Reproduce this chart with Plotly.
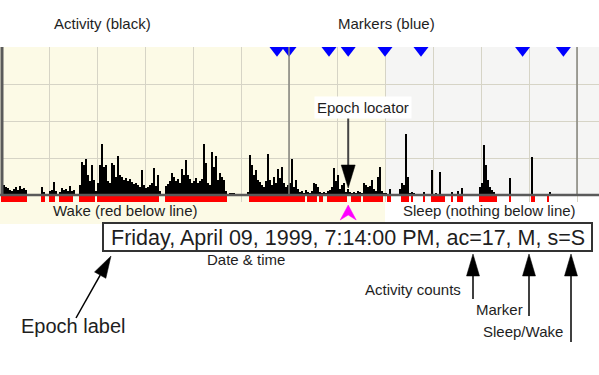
import math
import plotly.graph_objects as go

# ---------------- data ----------------
START_HOUR = 12.0          # first epoch starts at 12:00 PM
EPOCH_MIN = 2.5            # minutes per displayed epoch
DATE_LABEL = "Friday, April 09, 1999"

activity = [
    86, 27, 22, 19, 14, 11, 16, 22, 14, 24,
    16, 19, 14, 0, 0, 0, 0, 0, 0, 0,
    22, 8, 0, 0, 11, 14, 35, 11, 0, 8,
    19, 14, 16, 11, 24, 11, 14, 0, 0, 27,
    89, 81, 97, 54, 38, 81, 41, 11, 32, 81,
    138, 76, 81, 38, 32, 86, 81, 49, 105, 54,
    49, 41, 46, 38, 43, 35, 30, 32, 27, 22,
    68, 27, 19, 22, 27, 32, 73, 24, 54, 11,
    0, 0, 24, 30, 38, 59, 49, 38, 43, 32,
    70, 54, 95, 54, 43, 32, 38, 46, 32, 38,
    43, 138, 86, 32, 27, 116, 76, 105, 41, 59,
    49, 41, 11, 0, 5, 5, 5, 0, 0, 0,
    0, 0, 0, 8, 108, 81, 54, 68, 41, 35,
    27, 22, 38, 111, 41, 27, 49, 32, 70, 46,
    76, 32, 22, 27, 32, 97, 22, 41, 16, 8,
    11, 5, 14, 8, 5, 11, 32, 30, 22, 8,
    5, 8, 5, 11, 14, 22, 73, 38, 54, 16,
    27, 32, 8, 17, 8, 5, 8, 5, 11, 8,
    5, 32, 27, 22, 24, 41, 16, 11, 49, 76,
    11, 5, 5, 0, 16, 0, 0, 0, 0, 16,
    32, 27, 165, 49, 5, 8, 5, 0, 0, 0,
    0, 8, 0, 0, 0, 68, 0, 5, 0, 62,
    0, 0, 0, 0, 0, 8, 0, 0, 11, 0,
    19, 0, 0, 0, 0, 0, 0, 0, 0, 22,
    32, 135, 81, 41, 22, 14, 8, 0, 0, 0,
    0, 0, 0, 0, 46, 0, 0, 0, 0, 0,
    0, 0, 0, 0, 0, 103, 0, 0, 0, 0,
    0, 0, 0, 0, 8, 0, 0, 0, 0, 0,
    0, 0, 0, 0, 0, 0, 0, 0, 0, 0,
    0, 0, 0, 0, 0, 0, 0, 0, 0,
]

# wake-scored epochs (inclusive index ranges)
wake_ranges = [
    (0, 12), (20, 21), (24, 26), (29, 35), (39, 46), (48, 78), (82, 112),
    (124, 148), (149, 151), (153, 157), (159, 160), (163, 172), (175, 179),
    (181, 190), (193, 194), (200, 203), (205, 205), (211, 211), (215, 221),
    (225, 225), (228, 230), (239, 247), (254, 254), (265, 266), (273, 273),
]

marker_times = ["17:45", "18:00", "18:50", "19:14", "20:00", "20:45", "22:52", "23:43"]
locator_time = "19:14"
sleep_interval_start = "20:00"
major_lines = ["18:00", "24:00"]

# ---------------- helpers ----------------
W, H = 599, 375
X_LEFT, X_RIGHT = 1, 599      # plot area pixels
Y_TOP, Y_BASE, Y_BOTTOM = 47, 195, 202
Y_MAX = 400.0
cpp = Y_MAX / (Y_BASE - Y_TOP)          # counts per pixel
Y_MIN = -(Y_BOTTOM - Y_BASE) * cpp
X_MAX = START_HOUR + (X_RIGHT - X_LEFT) / 48.0


def hrs(t):
    h, m = t.split(":")
    return int(h) + int(m) / 60.0


def px(x):
    return x / W


def py(y):
    return 1 - y / H


n = len(activity)
epoch_x = [START_HOUR + (i * EPOCH_MIN + EPOCH_MIN / 2) / 60.0 for i in range(n)]
is_wake = [False] * n
for a, b in wake_ranges:
    for i in range(a, b + 1):
        is_wake[i] = True
wake_x = [epoch_x[i] for i in range(n) if is_wake[i]]
bw = EPOCH_MIN / 60.0

fig = go.Figure()
fig.add_trace(go.Bar(x=epoch_x, y=activity, width=bw, marker=dict(color="black", line=dict(width=0)),
                     hoverinfo="skip"))
fig.add_trace(go.Bar(x=wake_x, y=[-(Y_BOTTOM - Y_BASE - 1.2) * cpp] * len(wake_x),
                     base=[-1.2 * cpp] * len(wake_x), width=bw,
                     marker=dict(color="#FF0000", line=dict(width=0)), hoverinfo="skip"))
fig.add_trace(go.Scatter(x=[hrs(t) for t in marker_times], y=[Y_MAX - 3.3 * cpp] * len(marker_times),
                         mode="markers", cliponaxis=False,
                         marker=dict(symbol="triangle-down", size=13, color="#0000FF", line=dict(width=0)),
                         hoverinfo="skip"))

shapes = []
split_px = X_LEFT + (hrs(sleep_interval_start) - START_HOUR) * 48
# backgrounds
shapes.append(dict(type="rect", xref="paper", yref="paper", x0=px(0), x1=px(split_px),
                   y0=py(224), y1=py(Y_TOP), fillcolor="#FCFAE6", line=dict(width=0), layer="below"))
shapes.append(dict(type="rect", xref="paper", yref="paper", x0=px(split_px), x1=px(W),
                   y0=py(Y_BASE + 1), y1=py(Y_TOP), fillcolor="#F5F5F4", line=dict(width=0), layer="below"))
# darker hour lines
for t in major_lines:
    shapes.append(dict(type="line", xref="x", yref="y", x0=hrs(t), x1=hrs(t), y0=0, y1=Y_MAX,
                       line=dict(color="#85857d", width=1.5)))
# baseline and left border
shapes.append(dict(type="line", xref="paper", yref="y", x0=0, x1=1, y0=0, y1=0,
                   line=dict(color="#5a5a5a", width=2.5)))
shapes.append(dict(type="line", xref="paper", yref="paper", x0=px(2), x1=px(2), y0=py(Y_BASE), y1=py(Y_TOP),
                   line=dict(color="#5a5a5a", width=3)))


def tri(tip, base_c, half_w, color):
    (tx, ty), (bx, by) = tip, base_c
    dx, dy = tx - bx, ty - by
    L = math.hypot(dx, dy)
    nx, ny = -dy / L, dx / L
    p1 = (bx + nx * half_w, by + ny * half_w)
    p2 = (bx - nx * half_w, by - ny * half_w)
    path = "M {},{} L {},{} L {},{} Z".format(px(tx), py(ty), px(p1[0]), py(p1[1]), px(p2[0]), py(p2[1]))
    return dict(type="path", xref="paper", yref="paper", path=path, fillcolor=color,
                line=dict(color=color, width=0.5))


def arrow(x0, y0, x1, y1, head_len=22, half_w=6.5, color="black", width=1.5, shaft_color=None):
    dx, dy = x1 - x0, y1 - y0
    L = math.hypot(dx, dy)
    bx, by = x1 - dx / L * head_len, y1 - dy / L * head_len
    shapes.append(dict(type="line", xref="paper", yref="paper", x0=px(x0), y0=py(y0), x1=px(bx), y1=py(by),
                       line=dict(color=shaft_color or color, width=width)))
    shapes.append(tri((x1, y1), (bx, by), half_w, color))


loc_px = X_LEFT + (hrs(locator_time) - START_HOUR) * 48
# epoch locator arrow
arrow(loc_px, 117, loc_px, 188, head_len=23, half_w=7, color="black", width=2, shaft_color="#444444")
# magenta locator pointer (notched up-arrow)
mp = "M {},{} L {},{} L {},{} L {},{} Z".format(px(loc_px), py(205), px(loc_px + 8), py(220),
                                                px(loc_px), py(215), px(loc_px - 8), py(220))
shapes.append(dict(type="path", xref="paper", yref="paper", path=mp, fillcolor="#FF00FF",
                   line=dict(color="#FF00FF", width=0.5)))
# epoch label box
shapes.append(dict(type="rect", xref="paper", yref="paper", x0=px(103), x1=px(592), y0=py(251), y1=py(223),
                   fillcolor="white", line=dict(color="#333333", width=2)))
# bottom arrows
arrow(473, 299, 473, 254)
arrow(529, 316, 529, 254)
arrow(571, 342, 571, 254)
arrow(76, 318, 111, 256)

# epoch label text from data
li = int((hrs(locator_time) - START_HOUR) * 60 // EPOCH_MIN)
h24, mm = locator_time.split(":")
h12 = int(h24) % 12 or 12
ampm = "PM" if int(h24) >= 12 else "AM"
mk = "M" if locator_time in marker_times else "-"
sw = "W" if is_wake[li] else "S"
epoch_text = "{}, {}:{}:00 {}, ac={}, {}, s={}".format(DATE_LABEL, h12, mm, ampm, activity[li], mk, sw)

FONT = "Liberation Sans, Arial, sans-serif"


def label(text, x, y, size=15, xanchor="center", bg=None):
    d = dict(text=text, x=px(x), y=py(y), xref="paper", yref="paper", showarrow=False,
             xanchor=xanchor, yanchor="middle", font=dict(family=FONT, size=size, color="#1e1e1e"))
    if bg:
        d["bgcolor"] = bg
        d["borderpad"] = 2
    return d


annotations = [
    label("Activity (black)", 102, 23),
    label("Markers (blue)", 386, 23),
    label("Epoch locator", 363, 107, bg="white"),
    label("Wake (red below line)", 125, 210),
    label("Sleep (nothing below line)", 489, 210),
    label(epoch_text, 347.5, 237.5, size=21.5),
    label("Date & time", 246, 259),
    label("Activity counts", 413, 289),
    label("Marker", 474, 309, xanchor="left"),
    label("Sleep/Wake", 481, 331, xanchor="left"),
    label("Epoch label", 73, 326, size=20),
]

fig.update_layout(
    width=W, height=H, autosize=False,
    margin=dict(l=0, r=0, t=0, b=0),
    paper_bgcolor="white", plot_bgcolor="rgba(0,0,0,0)",
    showlegend=False, barmode="overlay", bargap=0,
    shapes=shapes, annotations=annotations,
    xaxis=dict(domain=[px(X_LEFT), px(X_RIGHT)], range=[START_HOUR, X_MAX], tick0=START_HOUR, dtick=1,
               showgrid=True, gridcolor="#D6D4C6", gridwidth=1, showticklabels=False, zeroline=False,
               showline=False, ticks="", fixedrange=True),
    yaxis=dict(domain=[py(Y_BOTTOM), py(Y_TOP)], range=[Y_MIN, Y_MAX], tick0=0, dtick=100,
               showgrid=True, gridcolor="#D6D4C6", gridwidth=1, showticklabels=False, zeroline=False,
               showline=False, ticks="", fixedrange=True),
)

fig.write_html("out.html", config={"displayModeBar": False})
